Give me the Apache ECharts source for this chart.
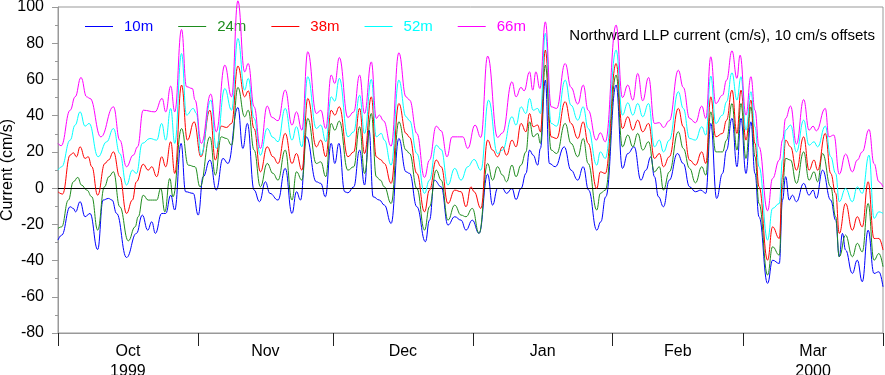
<!DOCTYPE html>
<html>
<head>
<meta charset="utf-8">
<script src="https://cdn.jsdelivr.net/npm/echarts@6/dist/echarts.min.js"></script>
<style>
  html, body { margin: 0; padding: 0; background: #fff; }
  #chart { width: 885px; height: 375px; }
</style>
</head>
<body>
<div id="chart"></div>
<script>
// days since 1 Oct 1999, current in cm/s (each depth offset by 10 cm/s)
var names = ['10m', '24m', '38m', '52m', '66m'];
var colors = ['#0000ff', '#1e8c1e', '#ff0000', '#00ffff', '#ff00ff'];

var monthStarts = ['1999-10-01', '1999-11-01', '1999-12-01', '2000-01-01', '2000-02-01', '2000-03-01', '2000-04-01'];
var monthLabels = ['Oct\n1999', 'Nov', 'Dec', 'Jan', 'Feb', 'Mar\n2000'];

var m10 = [[0,-28.7],[0.8,-26],[2.7,-10.3],[3.4,-11.2],[3.9,-13.1],[4.9,-7.5],[6,-15.8],[7.1,-14],[8.8,-33.9],[10,-6.6],[11.2,-5.7],[12,-6.6],[13,-14],[15.2,-38.3],[17.4,-25],[18.7,-14.9],[19.9,-23.2],[20.8,-18.6],[21.6,-25],[23,-14],[23.9,-14],[25,-3.9],[25.9,-12.1],[27.3,24.7],[28.3,-2],[30,-2.9],[31.1,-14.9],[32.2,6.3],[33.7,15.5],[35.1,-1.1],[36.6,16.4],[37.7,13.6],[39.9,44.5],[41,21.9],[42,35.7],[43.5,-1.1],[44.7,-7.5],[46,3.5],[47,-2.9],[48.8,-6.6],[50.4,10.9],[51.9,-14],[52.9,-2],[53.8,-6.6],[55.1,28.3],[57.3,3.5],[58.3,2.6],[59.3,-4.8],[60.6,24.7],[61.4,13.6],[62.3,24.7],[63.6,-2],[64.3,-2.6],[65.6,0.7],[66.9,21],[68,1.7],[69,32],[69.9,-4.8],[71.3,-6.6],[72.4,-9.4],[73.9,-19.5],[75.6,27.4],[77.2,9],[78,8.1],[79.6,-10.3],[81.5,-29.6],[82.4,-17.7],[83.5,4.4],[85,0.7],[86.5,-20.4],[88,-15.8],[89.4,-17.7],[90.5,-23.2],[91.9,-17.7],[93.4,-25],[95.3,7.7],[96.4,-9.4],[97.5,-0.2],[98.6,-0.2],[99.5,-2.9],[100.7,-0.2],[101.6,-6.3],[102.7,-0.2],[103.8,8.1],[104.6,21],[105.4,18.2],[106.4,12.7],[107,21.9],[108.1,59.6],[109,13.6],[110.3,11.8],[112.3,22.8],[113.8,9.9],[115.3,4.4],[116.5,11.8],[117.7,-1.1],[119.5,-23.2],[120.4,-18.6],[121.5,-4.8],[123.8,56.9],[125.2,10.9],[126.4,19.1],[127.8,22.8],[129.3,4.4],[130.4,9.9],[131.5,17.3],[132.3,6.3],[133.2,-4.8],[134.3,-10.3],[135.6,4.4],[137.4,19.1],[138.7,13.6],[140.1,0.7],[141.4,-2],[142.6,-1.1],[143.7,-2.9],[144.8,35.7],[146.1,-5.7],[147.4,8.1],[148.3,21],[149.5,38.5],[150.6,11.8],[151.5,38.5],[152.6,8.1],[153.7,36.6],[154.6,8.1],[155.5,-15.8],[157.4,-52.6],[158.5,-39.8],[160,-41.6],[160.7,-6.6],[161.4,6.3],[162.2,-6.6],[162.9,-3.9],[163.8,-7.5],[165.4,2.6],[166.6,-3.9],[167.5,-1.1],[168.2,-5.7],[169.6,9.9],[171.4,-6.6],[172.5,-17.7],[173.3,-37.9],[174,-25],[174.7,-34.2],[176.2,-47.1],[177.3,-39.8],[178.4,-51.7],[179.7,-23.2],[181,-47.1],[182.1,-46.2],[183,-54.5]];

var m24 = [[0,-22.3],[0.8,-21.4],[2.3,-6.6],[3.4,3.5],[4.4,5.9],[5.2,1.7],[6.4,-1.1],[7.5,-4.8],[8.8,-23.2],[10.3,0.7],[11.3,6.3],[12.3,9],[13.7,-10.3],[15.6,-29.1],[17.1,-21.4],[17.8,-15.8],[18.9,-3.9],[20,-6.6],[21.9,-6.6],[22.8,-0.2],[23.7,-13.1],[24.8,5.3],[25.5,-4.8],[27.4,32.9],[28.9,12.7],[30.4,11.8],[31.5,0.7],[33.7,28.3],[34.9,7.2],[36.2,28.3],[37.4,27.4],[38.5,23.7],[39.9,55.6],[41.4,39.4],[42.2,43],[43.5,21],[44.9,0.7],[46.4,13.6],[47.7,8.1],[48.8,4.4],[50.4,21],[51.9,-6.6],[52.9,9],[54.1,4.4],[55.4,38.5],[57.3,13.6],[58.3,14.5],[59.4,6.3],[60.6,35.7],[61.4,32],[62.4,37],[64.3,9.9],[65.6,11.8],[66.9,33.9],[68,8.1],[69.5,41.2],[70.6,6.3],[71.5,4.4],[72.4,0.7],[73.9,-8.5],[75.6,36.6],[77.2,21],[78,19.1],[79.6,-0.2],[81.3,-23.2],[82.4,-10.3],[83.9,9.9],[85,4.4],[86.5,-17.7],[88,-9.4],[89.4,-14.9],[90.5,-15.8],[91.9,-11.2],[93.4,-25],[95.3,13.6],[96.4,4.4],[97.5,11.8],[98.6,7.2],[99.5,3.5],[100.7,12.7],[101.6,6.3],[102.7,12.7],[103.8,20],[104.6,36.6],[105.4,28.3],[106.4,30.2],[107,24.7],[108.1,67.9],[109.4,21],[110.6,19.1],[112.5,35.7],[113.8,24.7],[115.3,17.3],[116.5,27.4],[117.6,13.6],[119.5,-12.1],[120.3,-2.9],[121.4,-1.1],[123.8,62.4],[125.2,22.8],[126.4,29.3],[127.5,22.8],[128.6,30.2],[129.7,21],[131,25.6],[132.3,9],[133.4,11.8],[134.3,-1.1],[135.6,9],[137.6,31.1],[138.7,21.9],[140.1,10.9],[141.4,2.9],[142.8,11.8],[143.7,7.2],[144.8,42.1],[145.9,20],[147.4,20],[148.3,26.5],[149.5,46.7],[150.6,21],[151.5,46.7],[152.6,16.4],[153.7,44.9],[154.6,17.3],[155.5,-8.5],[157.4,-48],[158.5,-32.4],[160,-37],[160.7,0.7],[161.4,16.4],[162.5,15.5],[163.8,2.6],[165.4,20],[166.6,4.4],[167.7,9],[168.5,3.5],[169.6,19.1],[171.4,0.7],[172.5,-15.8],[173.3,-37.9],[174.7,-25.9],[176.2,-37.9],[177.3,-30.5],[178.4,-35.2],[179.7,-8.5],[181,-39.8],[182.1,-36.1],[183,-43.4]];

var m38 = [[0,-2],[1,-3.3],[2.7,18.2],[3.4,19.5],[4.1,17.3],[4.9,22.8],[6,16.4],[6.7,17.3],[7.5,11.8],[8.8,-3.9],[10.4,13.6],[11.2,15.5],[12.3,20],[13.7,6.3],[15.2,-14],[16.5,-6.6],[17.4,3.5],[18.9,13.2],[20,9.9],[20.8,11.8],[21.9,6.3],[23,17.3],[23.9,11.8],[25,25.6],[25.9,8.1],[27.4,56.9],[28.7,26.5],[30.2,36.6],[31.7,17.3],[33.7,43],[34.9,15.5],[36.2,34.2],[37.4,33.5],[38.5,35.7],[39.9,67.4],[41.4,50.4],[42.2,53.7],[43.5,32.9],[44.9,9],[46.4,22.8],[47.7,17.3],[48.8,13.6],[50.4,30.2],[51.9,13.6],[52.9,19.1],[54.1,9.9],[55.4,49.5],[57.3,22.8],[58.3,26.5],[59.4,17.3],[60.6,43],[61.4,40.3],[62.4,44.9],[64.3,17.3],[65.6,20],[66.9,44],[68,19.1],[69.5,50.4],[70.6,17.3],[71.5,15.8],[72.4,13.6],[73.9,2.6],[75.6,46.7],[77.2,30.2],[78,28],[79.6,8.1],[81.3,-13.1],[82.4,-1.1],[83.9,15.5],[85,11.8],[86.5,-8.5],[88,-1.1],[89.4,-2],[90.5,-10.3],[91.6,0.7],[92.3,-2],[93.8,-11.2],[95.3,26.5],[96.4,21],[97.5,17.3],[98.6,22.8],[99.5,18.2],[100.7,26.5],[101.6,22.8],[102.7,35.7],[103.8,31.1],[104.6,41.2],[105.4,33.9],[106.4,34.8],[107,31.1],[108.1,76.2],[109.4,28.3],[110.6,27.4],[112.5,47.7],[113.8,35.7],[115.3,27.4],[116.5,36.6],[117.6,24.7],[119.5,-0.2],[120.3,9],[121.4,8.1],[123.8,68.8],[125.2,32.9],[126.4,39.4],[127.5,32],[128.6,37.5],[129.7,31.1],[131,35.7],[132.3,16.4],[133.4,19.1],[134.3,11.8],[135.6,17.3],[137.6,44],[138.7,33.9],[140.1,15.5],[141.4,12.7],[142.8,20],[143.7,13.6],[144.8,50.4],[145.9,28.3],[147.4,30.2],[148.3,37.5],[149.5,54.1],[150.6,30.2],[151.5,54.1],[152.6,26.5],[153.7,48.6],[154.6,24.7],[155.5,0.7],[157.4,-39.8],[158.5,-21.4],[160,-27.8],[160.7,6.3],[161.4,26.5],[162.5,22.8],[163.8,9.9],[165.4,28.3],[166.6,9.9],[167.7,15.5],[168.5,9.9],[170.2,30.2],[171.4,8.1],[172.5,-2.9],[173.3,-25],[174.7,-8.5],[176.2,-23.2],[177.3,-15.8],[178.4,-21.4],[179.7,3.5],[181,-27.8],[182.1,-27.8],[183,-34.2]];

var m52 = [[0,9.9],[0.8,11.8],[2.7,26.5],[3.8,34.8],[4.9,42.1],[6,34.2],[6.9,35.7],[8.9,17.3],[10.8,25.6],[12.3,32.9],[13.7,19.1],[15.2,1.7],[16.5,9.9],[17.4,8.1],[18.7,24.7],[20.4,27.4],[21.9,26.5],[23,35.7],[23.9,26.5],[25,44],[25.9,24.7],[27.4,74.3],[28.5,40.3],[30,44],[30.7,41.2],[31.7,18.2],[33.9,48.6],[35.1,21.9],[37,55],[38.5,43],[39.9,82.6],[41.4,54.1],[42.2,60.6],[43.5,38.5],[44.9,18.2],[46.4,32.9],[47.7,28],[48.8,25.6],[50.4,44],[51.9,26.5],[52.9,33.9],[54.1,22.8],[55.4,61.5],[57.3,32.9],[58.3,34.8],[59.4,25.6],[60.6,50.4],[61.4,48],[62.4,60.6],[64.3,28.3],[65.6,31.1],[66.9,51.3],[68,30.2],[69.5,60],[70.6,28.3],[71.7,30.2],[72.4,26.5],[73.9,12.7],[75.6,59.6],[77.2,39.4],[78,37.2],[79.6,19.1],[81.3,-2.9],[82.4,4.4],[83.9,23.7],[85,21.3],[86.5,1.7],[88,10.9],[89.4,4.4],[90.9,11.8],[92.3,15.8],[93.8,9.9],[95.5,48.6],[97.5,19.1],[98.6,21],[100.7,39.4],[101.6,34.8],[102.7,44.9],[103.8,41.2],[104.6,49.5],[105.4,43],[106.4,44],[107,41.2],[108.1,85.4],[109.4,35.7],[110.6,34.2],[112.5,59.6],[113.8,45.8],[115.3,37.5],[116.5,44.9],[117.6,32.9],[119.5,12.7],[120.3,20],[121.4,16.4],[123.8,76.2],[125.2,40.3],[126.4,47.1],[127.5,40.3],[128.6,46.7],[129.7,39.4],[131,46.7],[132.3,22.8],[133.4,26.5],[134.3,20],[135.6,26.5],[137.6,53.2],[138.7,44],[140.1,27.4],[141.4,26.5],[142.8,33.9],[143.7,29.3],[144.8,61.9],[145.9,35.7],[147.4,40.3],[148.3,47.7],[149.5,63.7],[150.6,48.6],[151.5,61.5],[152.6,32],[153.7,53.2],[154.6,33.9],[155.5,11.8],[157.4,-28.7],[158.5,-11.2],[160,-8.5],[160.7,15.5],[161.4,32],[162.5,34.8],[163.8,20],[165.4,37.5],[166.6,23.7],[167.7,25.6],[168.5,22.8],[170.2,34.2],[171.4,17.3],[172.5,8.1],[173.3,-7.5],[174.7,-0.2],[176.2,-7.5],[177.3,0.7],[178.4,-2.9],[179.9,18.2],[181,-16.7],[182.1,-13.1],[183,-14]];

var m66 = [[0,24.7],[0.7,23.4],[2.7,43],[3.8,50.4],[5.1,61.1],[6.35,50.4],[7.1,49.5],[9.5,28.3],[12.3,44.9],[13.7,26.5],[15.2,11.8],[16.7,18.2],[17.65,22.8],[18.9,43],[21.5,42.1],[23.1,49.5],[23.9,42.1],[25,56.3],[25.9,42.1],[27.4,87.6],[28.5,56],[29.8,55],[30.4,48.6],[31.8,24.7],[33.9,51.9],[35.1,31.1],[37,67.9],[38.5,50.4],[39.9,103.4],[41.4,64.2],[42.2,68.8],[43.5,44.9],[44.9,21.9],[46.4,45.3],[47.5,39],[48.8,37.2],[50.4,54.1],[51.9,34.8],[52.9,42.1],[54.1,32],[55.4,75.3],[57.3,41.2],[58.3,43],[59.4,32.9],[60.6,62.4],[61.4,57.8],[62.4,72.1],[64.3,39],[65.6,42.1],[66.9,62.4],[68,41.2],[69.5,69.7],[70.6,38.5],[71.3,40.3],[72.2,37.2],[73.9,23.2],[75.6,74.7],[77.2,50.4],[78,48.6],[79.6,30.2],[81.3,5.9],[82.4,15.5],[83.9,34.2],[85,31.6],[86.3,17.3],[87.4,28.3],[89.8,28.3],[90.9,21.9],[92.5,34.8],[93.8,28],[95.3,72.9],[97.5,28],[98.6,30.5],[100.7,58.7],[101.6,50.4],[102.7,55.6],[103.4,53.7],[104.6,64.2],[105.3,54.1],[106,64.2],[106.9,55],[108.1,91.8],[109.4,44.9],[110.6,44],[112.5,68.8],[113.8,55.6],[115.3,46.4],[116.5,56.9],[117.6,43],[119.4,26.5],[120.3,30.5],[121.4,25.6],[123.8,90],[125.2,50],[126.4,56.9],[127.5,48.6],[128.6,63.3],[129.7,48.2],[131,61.1],[132.3,35.7],[133.4,36.1],[134.3,33.5],[135.6,37.2],[137.6,65.1],[138.7,55.6],[140.1,38.5],[141.4,36.1],[142.8,45.3],[143.7,38.5],[144.8,72.5],[145.9,46.7],[147.4,51.3],[148.3,59.6],[149.5,75.8],[150.6,60.6],[151.3,73.4],[152.6,40.3],[153.7,61.5],[154.6,43],[155.5,22.8],[157.4,-12.5],[158.5,5.3],[160,15.5],[160.7,26.5],[161.4,38.5],[162.5,45.3],[163.8,24.3],[165.4,48.9],[166.6,32],[167.5,34.2],[168.2,31.6],[170.2,44],[171,28.3],[172.1,29.3],[173.3,7.7],[174.7,18.8],[176.2,9],[177.3,15.5],[178.4,20],[179.9,32.4],[181,13.6],[182.1,3.5],[183,0.7]];

var seriesData = [m10, m24, m38, m52, m66];

var DAY = 86400000;
var t0 = Date.parse('1999-10-01');
var font = "'Liberation Sans', Arial, sans-serif";

var tickDays = monthStarts.map(function (d) { return Math.round((Date.parse(d) - t0) / DAY); });
// month names sit half way between the month boundaries
var labelDays = [];
for (var k = 0; k < tickDays.length - 1; k++) {
    labelDays.push((tickDays[k] + tickDays[k + 1]) / 2);
}

var chart = echarts.init(document.getElementById('chart'));

var series = seriesData.map(function (arr, i) {
    var s = {
        name: names[i],
        type: 'line',
        data: arr,
        symbol: 'none',
        smooth: 0.45,
        smoothMonotone: 'x',
        clip: false,
        lineStyle: { color: colors[i], width: 1 },
        itemStyle: { color: colors[i] },
        z: 3 + i
    };
    if (i === 0) {
        s.markLine = {
            silent: true,
            symbol: 'none',
            label: { show: false },
            lineStyle: { color: '#000', width: 1, type: 'solid' },
            data: [{ yAxis: 0 }]
        };
    }
    return s;
});

var option = {
    animation: false,
    backgroundColor: '#fff',
    textStyle: { fontFamily: font },
    title: {
        text: 'Northward LLP current (cm/s), 10 cm/s offsets',
        right: 10,
        top: 28,
        padding: 0,
        textStyle: { fontSize: 15, fontWeight: 'normal', color: '#000', fontFamily: font }
    },
    legend: {
        left: 85,
        top: 19,
        icon: 'rect',
        itemWidth: 28,
        itemHeight: 1,
        itemGap: 25,
        padding: 0,
        data: names.map(function (n, i) {
            return {
                name: n,
                itemStyle: { color: colors[i], borderColor: colors[i], borderWidth: 0 },
                textStyle: { color: colors[i] }
            };
        }),
        textStyle: { fontSize: 15, fontFamily: font, padding: [0, 0, 0, 6] }
    },
    grid: {
        left: 58,
        right: 2,
        top: 7,
        bottom: 42,
        containLabel: false,
        outerBoundsMode: 'none',
        show: true,
        borderColor: '#999',
        borderWidth: 1
    },
    xAxis: {
        type: 'value',
        min: tickDays[0],
        max: tickDays[tickDays.length - 1],
        axisLine: { show: true, onZero: false, lineStyle: { color: '#999' } },
        axisTick: {
            show: true,
            customValues: tickDays,
            length: 13,
            lineStyle: { color: '#222' }
        },
        axisLabel: {
            customValues: labelDays,
            margin: 9,
            fontSize: 16,
            lineHeight: 20,
            color: '#000',
            fontFamily: font,
            formatter: function (val) {
                var i = labelDays.indexOf(val);
                return i >= 0 ? monthLabels[i] : '';
            }
        },
        splitLine: { show: false }
    },
    yAxis: {
        type: 'value',
        min: -80,
        max: 100,
        interval: 20,
        name: 'Current (cm/s)',
        nameLocation: 'middle',
        nameGap: 42,
        nameMoveOverlap: false,
        nameTextStyle: { fontSize: 16, color: '#000', fontFamily: font },
        axisLine: { show: true, lineStyle: { color: '#999' } },
        axisTick: { show: true, length: 6, lineStyle: { color: '#999' } },
        minorTick: { show: true, splitNumber: 2, length: 3, lineStyle: { color: '#999' } },
        axisLabel: { fontSize: 16, color: '#000', margin: 14, fontFamily: font },
        splitLine: { show: false }
    },
    series: series
};

chart.setOption(option);
</script>
</body>
</html>
